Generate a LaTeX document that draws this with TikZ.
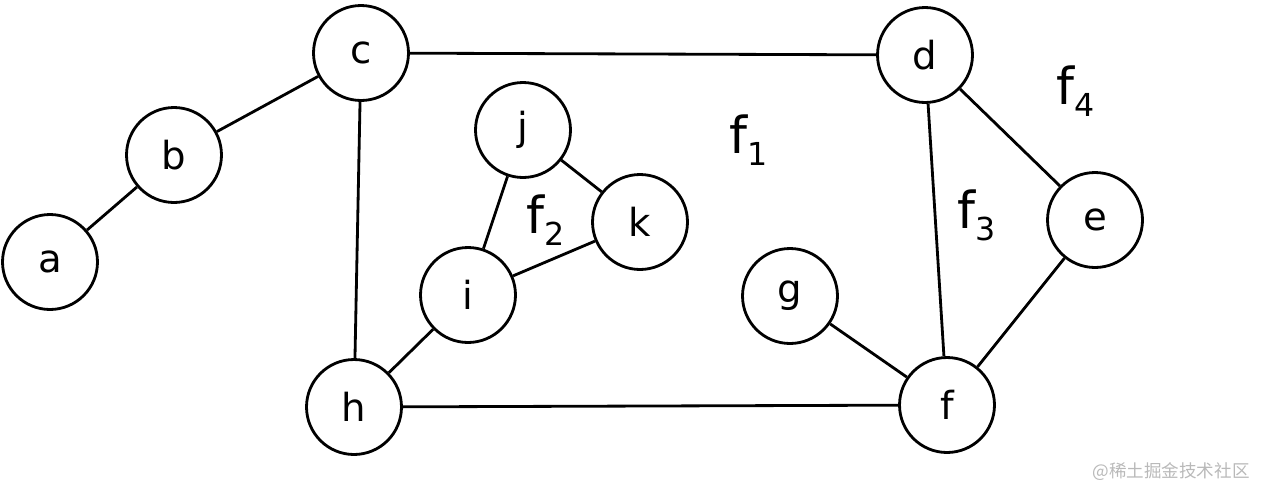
\documentclass[tikz,border=0pt]{standalone}
\usepackage{fontspec}
\setmainfont{DejaVu Sans}
\newfontfamily\cjkfont{Noto Sans CJK SC}
\newcommand{\facelabel}[1]{{\fontsize{29}{34}\selectfont f}\raisebox{-0.24cm}{\fontsize{18}{21}\selectfont #1}}

\begin{document}
\begin{tikzpicture}[x = 0.02cm, y = -0.02cm,
  vertex/.style = {draw, circle, line width = 1.6pt, minimum size = 1.9cm, inner sep = 0pt, font = \fontsize{22}{26}\selectfont},
  edge/.style = {line width = 1.6pt}]
%\draw [very thin, color = gray](0, 0) grid (1267, 501);
\useasboundingbox (0, 0) rectangle (1267, 501);
\node [vertex] (a) at (50, 262) {a};
\node [vertex] (b) at (174, 155) {b};
\node [vertex] (c) at (361, 53) {c};
\node [vertex] (d) at (925, 55) {d};
\node [vertex] (e) at (1095, 220) {e};
\node [vertex] (f) at (947, 405) {f};
\node [vertex] (g) at (790, 296) {g};
\node [vertex] (h) at (354, 407) {h};
\node [vertex] (i) at (468, 295) {i};
\node [vertex] (j) at (523, 130) {j};
\node [vertex] (k) at (640, 222) {k};
\draw [edge] (a) to (b);
\draw [edge] (b) to (c);
\draw [edge] (c) to (d);
\draw [edge] (c) to (h);
\draw [edge] (h) to (f);
\draw [edge] (h) to (i);
\draw [edge] (i) to (j);
\draw [edge] (i) to (k);
\draw [edge] (j) to (k);
\draw [edge] (g) to (f);
\draw [edge] (d) to (f);
\draw [edge] (d) to (e);
\draw [edge] (e) to (f);
\node (f1) at (749, 140) {\facelabel{1}};
\node (f2) at (546, 220) {\facelabel{2}};
\node (f3) at (977, 215) {\facelabel{3}};
\node (f4) at (1076, 91) {\facelabel{4}};
\node [text = gray!55] (mark) at (1171, 472) {\cjkfont\fontsize{10}{12}\selectfont @稀土掘金技术社区};
\end{tikzpicture}
\end{document}
